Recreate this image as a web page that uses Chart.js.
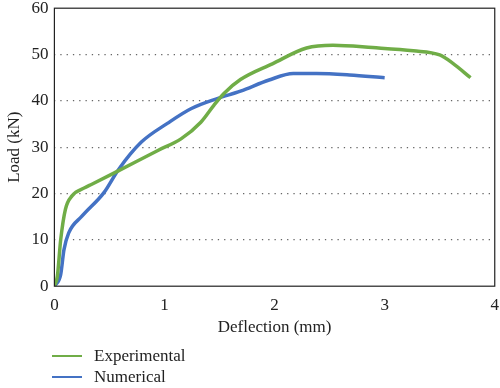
<!DOCTYPE html>
<html>
<head>
<meta charset="utf-8">
<script src="https://cdn.jsdelivr.net/npm/chart.js@4"></script>
<style>
  html, body { margin: 0; padding: 0; background: #fff; }
  #wrap { position: relative; width: 500px; height: 388px; overflow: hidden; }
  #chart { position: absolute; left: 0; top: -8px; }
  #legend { position: absolute; left: 52px; top: 345px; font-family: "Liberation Serif", "DejaVu Serif", serif; font-size: 17px; color: #222; }
  .leg-row { display: flex; align-items: center; height: 21px; }
  .leg-line { width: 30px; height: 2px; margin-right: 12px; }
</style>
</head>
<body>
<div id="wrap">
  <canvas id="chart" width="500" height="396"></canvas>
  <div id="legend"></div>
</div>
<script>
// ---- data ----
const expX = [0, 0.027, 0.057, 0.10, 0.16, 0.28, 0.34, 0.58, 0.94, 1.15, 1.33, 1.45, 1.54, 1.69, 1.98, 2.29, 2.53, 2.89, 3.26, 3.50, 3.62, 3.78];
const expY = [0, 2.2, 10, 16.6, 19.5, 21.3, 22.0, 24.9, 29.3, 31.8, 35.4, 39.1, 41.6, 44.6, 48.0, 51.4, 52.0, 51.5, 50.8, 49.9, 48.1, 45.0];
const numX = [0, 0.057, 0.087, 0.13, 0.25, 0.45, 0.58, 0.79, 1.03, 1.24, 1.48, 1.69, 1.95, 2.17, 2.38, 2.68, 3.0];
const numY = [0, 2.5, 7.9, 11.5, 15.1, 20.2, 25.1, 31.1, 35.2, 38.3, 40.5, 42.1, 44.5, 45.9, 45.9, 45.6, 45.0];
const seriesNames = ['Experimental', 'Numerical'];
const seriesColors = ['#70ad47', '#4472c4'];
const xTicks = [0, 1, 2, 3, 4];
const yTicks = [0, 10, 20, 30, 40, 50, 60];

const FONT = '"Liberation Serif", "DejaVu Serif", serif';

function toPoints(xs, ys) {
    return xs.map((x, i) => ({ x: x, y: ys[i] }));
}

// box round the plot area
const frame = {
    id: 'frame',
    afterDraw(chart) {
        const a = chart.chartArea;
        const ctx = chart.ctx;
        ctx.save();
        ctx.strokeStyle = '#222';
        ctx.lineWidth = 1.2;
        ctx.strokeRect(a.left, a.top, a.right - a.left, a.bottom - a.top);
        ctx.restore();
    }
};

new Chart(document.getElementById('chart'), {
    type: 'scatter',
    data: {
        datasets: [
            { label: seriesNames[0], data: toPoints(expX, expY) },
            { label: seriesNames[1], data: toPoints(numX, numY) }
        ].map((d, i) => Object.assign(d, {
            showLine: true,
            borderColor: seriesColors[i],
            backgroundColor: seriesColors[i],
            borderWidth: 3.5,
            pointRadius: 0,
            cubicInterpolationMode: 'monotone'
        }))
    },
    options: {
        responsive: false,
        animation: false,
        layout: { padding: { left: 0, right: 2, top: 0, bottom: 46 } },
        plugins: { legend: { display: false }, tooltip: { enabled: false } },
        scales: {
            x: {
                type: 'linear', min: 0, max: 4,
                afterBuildTicks: s => { s.ticks = xTicks.map(v => ({ value: v })); },
                grid: { display: false },
                border: { display: false },
                ticks: { color: '#222', font: { family: FONT, size: 17 }, padding: 1, maxRotation: 0 },
                title: { display: true, text: 'Deflection (mm)', color: '#222', font: { family: FONT, size: 17 }, padding: { top: 1 } }
            },
            y: {
                min: 0, max: 60,
                afterBuildTicks: s => { s.ticks = yTicks.map(v => ({ value: v })); },
                grid: {
                    color: c => (c.tick.value === 0 || c.tick.value === 60) ? 'rgba(0,0,0,0)' : '#666',
                    lineWidth: 1.3,
                    drawTicks: false
                },
                border: { display: false, dash: [1.3, 5] },
                ticks: { color: '#222', font: { family: FONT, size: 17 }, padding: 6 },
                title: { display: true, text: 'Load (kN)', color: '#222', font: { family: FONT, size: 17 }, padding: { bottom: 1 } }
            }
        }
    },
    plugins: [frame]
});

// ---- legend ----
const legendEl = document.getElementById('legend');
let html = '';
seriesNames.forEach((name, i) => {
    html += `<div class="leg-row"><span class="leg-line" style="background:${seriesColors[i]}"></span>${name}</div>`;
});
legendEl.innerHTML = html;
</script>
</body>
</html>
